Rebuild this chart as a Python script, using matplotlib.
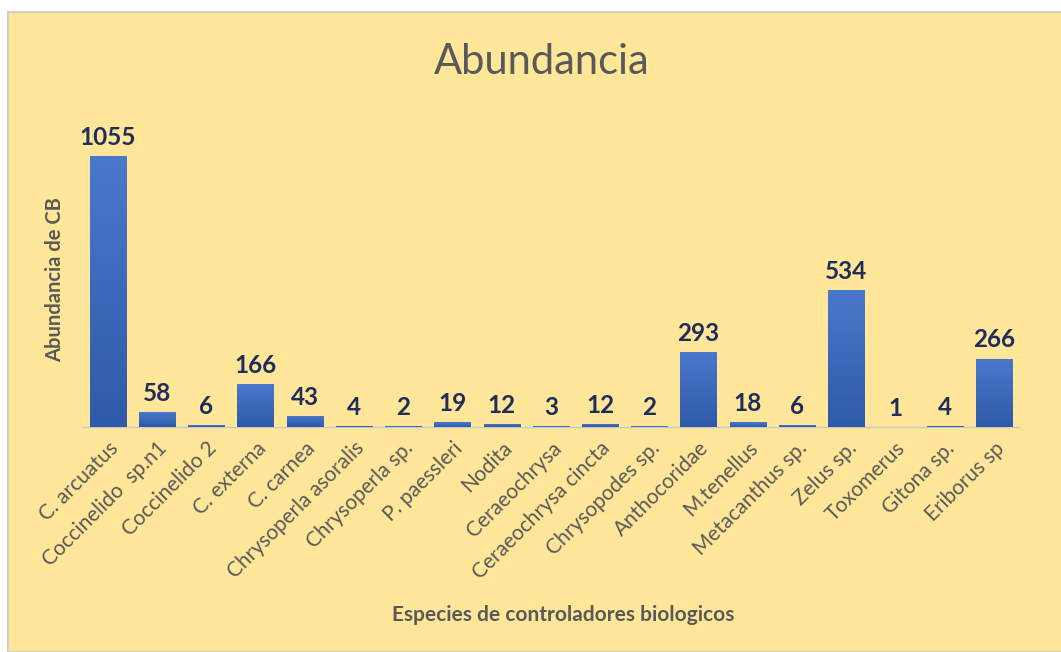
import numpy as np
import matplotlib
matplotlib.use('Agg')
import matplotlib.pyplot as plt
from matplotlib.patches import Rectangle
from matplotlib.colors import LinearSegmentedColormap

# Data
species = ['C. arcuatus', 'Coccinelido  sp.n1', 'Coccinelido 2', 'C. externa', 'C. carnea',
           'Chrysoperla asoralis', 'Chrysoperla sp.', 'P. paessleri', 'Nodita',
           'Ceraeochrysa', 'Ceraeochrysa cincta', 'Chrysopodes sp.', 'Anthocoridae',
           'M.tenellus', 'Metacanthus sp.', 'Zelus sp.', 'Toxomerus', 'Gitona sp.',
           'Eriborus sp']
abundance = [1055, 58, 6, 166, 43, 4, 2, 19, 12, 3, 12, 2, 293, 18, 6, 534, 1, 4, 266]

plt.rcParams['font.family'] = ['Lato', 'DejaVu Sans']

W, H = 1061, 652
fig = plt.figure(figsize=(W / 100, H / 100), dpi=100)
fig.patch.set_facecolor('white')

# yellow chart area (drawn behind everything)
fig.patches.append(Rectangle((8 / W, 0), 1, 1 - 12 / H, transform=fig.transFigure,
                             facecolor='#FFE699', edgecolor='#D0D0D0', linewidth=1.5,
                             zorder=-10))

ax = fig.add_axes([83.4 / W, 1 - 427 / H, 935.2 / W, 317 / H])
ax.set_facecolor('none')

x = np.arange(len(species))
bars = ax.bar(x, abundance, width=0.74, color='#4472C4', zorder=2)

# vertical gradient on the bars
cmap = LinearSegmentedColormap.from_list('blu', ['#2F5AA8', '#4A78CC'])
grad = np.linspace(0, 1, 256).reshape(-1, 1)
for b in bars:
    bx, by = b.get_x(), b.get_y()
    bw, bh = b.get_width(), b.get_height()
    im = ax.imshow(grad, extent=[bx, bx + bw, by, by + bh], origin='lower',
                   cmap=cmap, aspect='auto', zorder=3)
    im.set_clip_path(b)

ax.set_xlim(-0.5, len(species) - 0.5)
ax.set_ylim(0, 1234)

for xi, v in zip(x, abundance):
    ax.text(xi, v + 28, str(v), ha='center', va='bottom', fontsize=17.5,
            fontweight='bold', color='#1F2D5A')

ax.set_xticks(x)
ax.set_xticklabels(species, rotation=45, ha='right', rotation_mode='anchor',
                   fontsize=15, color='#595959')
ax.tick_params(axis='x', length=0, pad=8)
ax.set_yticks([])
for s in ['top', 'right', 'left']:
    ax.spines[s].set_visible(False)
ax.spines['bottom'].set_color('#C8C8C8')
ax.spines['bottom'].set_linewidth(1)

fig.text(542 / W, 1 - 62 / H, 'Abundancia', ha='center', va='center',
         fontsize=30, color='#595959')
fig.text(563 / W, 1 - 615 / H, 'Especies de controladores biologicos', ha='center',
         va='center', fontsize=15, fontweight='bold', color='#595959')
fig.text(55 / W, 1 - 280 / H, 'Abundancia de CB', ha='center', va='center',
         rotation=90, fontsize=14.5, fontweight='bold', color='#595959')

fig.savefig('out.png', dpi=100)
